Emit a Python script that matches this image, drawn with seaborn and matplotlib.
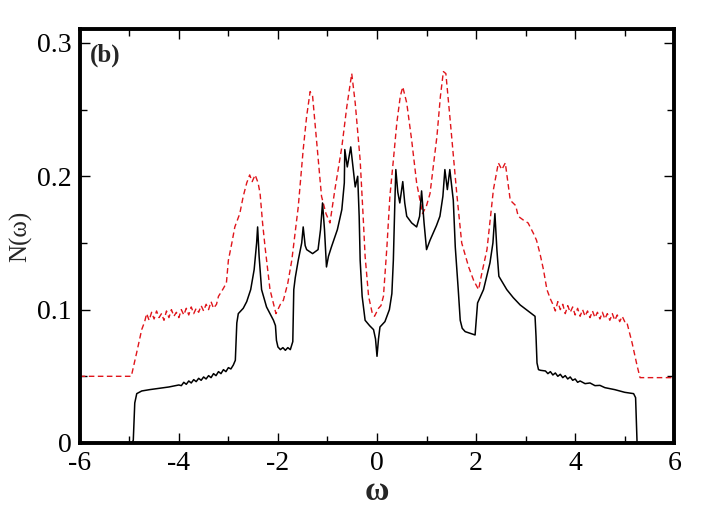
# Density of states N(w) - panel (b)
import numpy as np
import pandas as pd
import matplotlib
matplotlib.use("Agg")
import matplotlib.pyplot as plt
import seaborn as sns
from matplotlib.ticker import MultipleLocator

# -------- data --------
black_x = [-4.95, -4.92, -4.89, -4.85, -4.75, -4.59, -4.4, -4.2,
           -4.0, -3.95, -3.9, -3.85, -3.8, -3.75, -3.7, -3.65, -3.6, -3.55,
           -3.5, -3.45, -3.4, -3.35, -3.3, -3.25, -3.2, -3.15, -3.1, -3.05,
           -3.0, -2.95, -2.9, -2.86, -2.83, -2.80, -2.70, -2.63, -2.55, -2.48,
           -2.43, -2.41, -2.38, -2.33, -2.23, -2.09, -2.05, -2.03, -2.0, -1.95,
           -1.9, -1.85, -1.8, -1.75, -1.70, -1.68, -1.65, -1.59, -1.52, -1.49,
           -1.45, -1.42, -1.3, -1.19, -1.14, -1.10, -1.06, -1.02, -0.98, -0.92,
           -0.8, -0.71, -0.66, -0.65, -0.60, -0.53, -0.48, -0.44, -0.39, -0.36,
           -0.34, -0.30, -0.24, -0.15, -0.07, -0.03, 0.0, 0.03, 0.06, 0.16,
           0.25, 0.30, 0.33, 0.36, 0.38, 0.42, 0.46, 0.52, 0.56, 0.60,
           0.70, 0.80, 0.86, 0.90, 0.95, 1.0, 1.07, 1.20, 1.27, 1.33,
           1.37, 1.42, 1.47, 1.54, 1.58, 1.64, 1.68, 1.72, 1.78, 1.9,
           1.98, 2.01, 2.03, 2.15, 2.28, 2.34, 2.38, 2.42, 2.46, 2.62,
           2.75, 2.89, 3.05, 3.19, 3.21, 3.23, 3.26, 3.3, 3.4, 3.45,
           3.5, 3.55, 3.6, 3.65, 3.7, 3.75, 3.8, 3.85, 3.9, 3.95,
           4.0, 4.05, 4.1, 4.2, 4.3, 4.4, 4.5, 4.6, 4.8, 5.0,
           5.18, 5.22, 5.25]
black_y = [0.0, 0.002, 0.030, 0.037, 0.039, 0.040, 0.041, 0.042,
           0.0435, 0.0430, 0.0455, 0.0440, 0.0465, 0.0450, 0.0475, 0.0460, 0.0485, 0.0470,
           0.0495, 0.0480, 0.0505, 0.0490, 0.0520, 0.0505, 0.0535, 0.0520, 0.0550, 0.0535,
           0.0565, 0.0555, 0.0585, 0.062, 0.090, 0.097, 0.101, 0.106, 0.115, 0.130,
           0.150, 0.162, 0.140, 0.115, 0.102, 0.092, 0.088, 0.077, 0.072, 0.070,
           0.0715, 0.0695, 0.0715, 0.070, 0.076, 0.115, 0.124, 0.137, 0.150, 0.162,
           0.148, 0.145, 0.142, 0.145, 0.160, 0.180, 0.160, 0.132, 0.140, 0.147,
           0.160, 0.175, 0.195, 0.220, 0.207, 0.222, 0.205, 0.192, 0.200, 0.170,
           0.137, 0.110, 0.092, 0.088, 0.085, 0.078, 0.065, 0.078, 0.087, 0.091,
           0.100, 0.112, 0.137, 0.180, 0.205, 0.188, 0.180, 0.196, 0.180, 0.170,
           0.165, 0.162, 0.170, 0.189, 0.165, 0.145, 0.152, 0.163, 0.170, 0.185,
           0.205, 0.190, 0.205, 0.182, 0.147, 0.115, 0.092, 0.086, 0.0835, 0.082,
           0.081, 0.095, 0.105, 0.115, 0.135, 0.150, 0.172, 0.145, 0.125, 0.115,
           0.109, 0.1035, 0.099, 0.095, 0.080, 0.060, 0.055, 0.0545, 0.0540, 0.0520,
           0.0535, 0.0510, 0.0525, 0.0500, 0.0515, 0.0490, 0.0505, 0.0480, 0.0495, 0.0470,
           0.0480, 0.0455, 0.0465, 0.0445, 0.0450, 0.0430, 0.0432, 0.0415, 0.040, 0.038,
           0.037, 0.034, 0.0]

red_x = [-6.0, -4.96, -4.85, -4.75, -4.69,
         -4.65, -4.6, -4.55, -4.5, -4.45, -4.4, -4.35, -4.3, -4.25, -4.2,
         -4.15, -4.1, -4.05, -4.0, -3.95, -3.9, -3.85, -3.8, -3.75, -3.7,
         -3.65, -3.6, -3.55, -3.5, -3.45, -3.4, -3.35, -3.3, -3.24, -3.2,
         -3.14, -3.1, -3.04, -3.0, -2.93, -2.87, -2.77, -2.70, -2.63, -2.57,
         -2.52, -2.46, -2.40, -2.36, -2.31, -2.26, -2.16, -2.04, -1.95, -1.89,
         -1.80, -1.72, -1.59, -1.49, -1.42, -1.35, -1.30, -1.22, -1.12, -1.03,
         -0.95, -0.85, -0.71, -0.61, -0.51, -0.44, -0.34, -0.28, -0.24, -0.17,
         -0.10, -0.05, 0.03, 0.08, 0.13, 0.20, 0.26, 0.33, 0.40, 0.47,
         0.52, 0.60, 0.70, 0.80, 0.92, 1.0, 1.07, 1.21, 1.28, 1.34,
         1.39, 1.47, 1.61, 1.71, 1.85, 1.95, 2.05, 2.12, 2.22, 2.35,
         2.45, 2.52, 2.59, 2.69, 2.8, 2.85, 2.96, 3.05, 3.16, 3.22,
         3.29, 3.36, 3.43, 3.46, 3.5, 3.55, 3.6, 3.65, 3.7, 3.75,
         3.8, 3.85, 3.9, 3.95, 4.0, 4.05, 4.1, 4.15, 4.2, 4.25,
         4.3, 4.35, 4.4, 4.45, 4.5, 4.55, 4.6, 4.65, 4.7, 4.75,
         4.8, 4.85, 4.9, 4.95, 5.0, 5.04, 5.15, 5.25, 5.31, 6.0]
red_y = [0.05, 0.05, 0.068, 0.085, 0.091,
         0.097, 0.092, 0.098, 0.093, 0.099, 0.094, 0.097, 0.092, 0.099, 0.094,
         0.100, 0.095, 0.098, 0.094, 0.100, 0.096, 0.101, 0.096, 0.102, 0.097,
         0.101, 0.098, 0.103, 0.099, 0.104, 0.100, 0.106, 0.101, 0.104, 0.110,
         0.1135, 0.116, 0.120, 0.137, 0.150, 0.162, 0.172, 0.185, 0.195, 0.201,
         0.196, 0.201, 0.195, 0.187, 0.165, 0.147, 0.115, 0.097, 0.104, 0.107,
         0.120, 0.137, 0.177, 0.220, 0.245, 0.2635, 0.260, 0.227, 0.185, 0.172,
         0.165, 0.190, 0.222, 0.252, 0.277, 0.255, 0.212, 0.170, 0.140, 0.110,
         0.098, 0.095, 0.101, 0.103, 0.110, 0.147, 0.185, 0.212, 0.240, 0.260,
         0.267, 0.255, 0.227, 0.195, 0.172, 0.178, 0.187, 0.230, 0.260, 0.2785,
         0.277, 0.245, 0.187, 0.150, 0.132, 0.122, 0.115, 0.128, 0.145, 0.190,
         0.210, 0.205, 0.210, 0.182, 0.178, 0.170, 0.167, 0.165, 0.157, 0.152,
         0.142, 0.130, 0.115, 0.112, 0.108, 0.104, 0.099, 0.106, 0.100, 0.104,
         0.097, 0.103, 0.098, 0.102, 0.096, 0.101, 0.095, 0.100, 0.095, 0.099,
         0.094, 0.099, 0.094, 0.098, 0.093, 0.098, 0.093, 0.097, 0.092, 0.097,
         0.092, 0.096, 0.091, 0.095, 0.091, 0.091, 0.075, 0.058, 0.049, 0.049]

x_ticks = [-6, -4, -2, 0, 2, 4, 6]
y_ticks = [0, 0.1, 0.2, 0.3]
y_tick_labels = ["0", "0.1", "0.2", "0.3"]

# -------- style --------
sns.set_style("ticks")
plt.rcParams['font.family'] = ['Liberation Serif', 'DejaVu Serif']
plt.rcParams['axes.unicode_minus'] = False

fig = plt.figure(figsize=(7.06, 5.16), dpi=100)
ax = fig.add_axes([0.113, 0.1415, 0.842, 0.8025])

sns.lineplot(x=red_x, y=red_y, ax=ax, color="#e0151b", linewidth=1.0,
             linestyle=(0, (4, 2.5)), sort=False, estimator=None)
sns.lineplot(x=black_x, y=black_y, ax=ax, color="black", linewidth=1.1,
             sort=False, estimator=None)

ax.set_xlim(-6, 6)
ax.set_ylim(0, 0.3105)
ax.set_xticks(x_ticks)
ax.set_xticklabels([str(t) for t in x_ticks])
ax.set_yticks(y_ticks)
ax.set_yticklabels(y_tick_labels)
ax.xaxis.set_minor_locator(MultipleLocator(1))
ax.yaxis.set_minor_locator(MultipleLocator(0.05))

ax.tick_params(which="both", direction="in", top=True, right=True,
               labelsize=20, width=1.0, colors="black", pad=6)
ax.tick_params(which="major", length=7)
ax.tick_params(which="minor", length=5)

for s in ax.spines.values():
    s.set_linewidth(2.8)
    s.set_color("black")

ax.set_xlabel("ω", fontsize=24, fontweight="bold", labelpad=0)
ax.set_ylabel("N(ω)", fontsize=18, labelpad=3)
ax.text(0.017, 0.937, "(b)", transform=ax.transAxes, fontsize=18,
        fontweight="bold", va="center", ha="left")

fig.savefig("out.png", dpi=100)
